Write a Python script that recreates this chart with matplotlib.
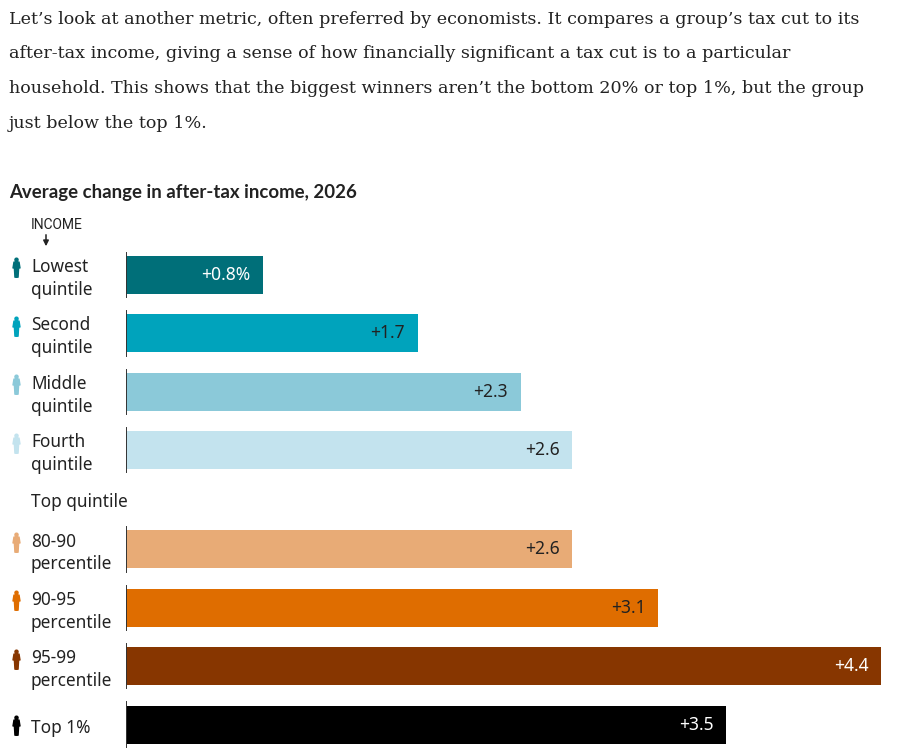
import numpy as np
import matplotlib
matplotlib.use("Agg")
import matplotlib.pyplot as plt
from matplotlib.path import Path
from matplotlib.transforms import blended_transform_factory

# Chart data
groups = ["Lowest\nquintile", "Second\nquintile", "Middle\nquintile", "Fourth\nquintile",
          "80-90\npercentile", "90-95\npercentile", "95-99\npercentile", "Top 1%"]
values = [0.8, 1.7, 2.3, 2.6, 2.6, 3.1, 4.4, 3.5]
value_labels = ["+0.8%", "+1.7", "+2.3", "+2.6", "+2.6", "+3.1", "+4.4", "+3.5"]
bar_colors = ["#006f79", "#00a3bc", "#8bc9d9", "#c3e3ee",
              "#e8ab76", "#df6d00", "#873600", "#000000"]
label_colors = ["white", "#222222", "#222222", "#222222",
                "#222222", "#222222", "white", "white"]

title = "Average change in after-tax income, 2026"
intro = [
    "Let\u2019s look at another metric, often preferred by economists. It compares a group\u2019s tax cut to its",
    "after-tax income, giving a sense of how financially significant a tax cut is to a particular",
    "household. This shows that the biggest winners aren\u2019t the bottom 20% or top 1%, but the group",
    "just below the top 1%.",
]

W, H = 902, 752
SANS = "Noto Sans"
TEXT = "#222222"

# rows, with a gap before the top-quintile breakdown
idx = np.arange(len(values))
rows = idx + np.where(idx >= 4, 0.7, 0.0)

fig = plt.figure(figsize=(W / 100, H / 100), dpi=100)

# intro paragraph
for i, line in enumerate(intro):
    fig.text(9 / W, 1 - (24 + 34.5 * i) / H, line, fontfamily="DejaVu Serif",
             fontsize=12.6, color=TEXT, va="baseline")

fig.text(9 / W, 1 - 198 / H, title, fontfamily="Lato", fontweight="bold",
         fontsize=13.4, color=TEXT, va="baseline")

fig.text(31 / W, 1 - 225 / H, "INCOME", fontfamily="Roboto",
         fontsize=10, color=TEXT, va="center")
fig.add_artist(plt.Annotation("", xy=(46, H - 249), xytext=(46, H - 232),
                              xycoords="figure pixels",
                              arrowprops=dict(arrowstyle="-|>", color=TEXT, lw=1.1,
                                              mutation_scale=8)))

ax = fig.add_axes([126 / W, 2 / H, 772 / W, 500 / H])
ax.barh(rows, values, height=0.65, color=bar_colors)
for r in rows:
    ax.plot([0, 0], [r - 0.38, r + 0.38], color="#333333", lw=1.4)
ax.set_xlim(0, 4.5)
ax.set_ylim(8.134, -0.428)
ax.set_axis_off()

for v, r, lbl, c in zip(values, rows, value_labels, label_colors):
    ax.annotate(lbl, (v, r), xytext=(-9, 0), textcoords="offset points",
                ha="right", va="center", fontfamily=SANS, fontsize=12.6, color=c)

# group labels and little person icons on the left
trans = blended_transform_factory(fig.transFigure, ax.transData)
head = Path.circle((0, 0.8), 0.16)
body = Path([(-0.26, 0.56), (0.26, 0.56), (0.36, -0.05), (0.22, -0.05), (0.16, -1),
             (0.04, -1), (0, -0.3), (-0.04, -1), (-0.16, -1), (-0.22, -0.05),
             (-0.36, -0.05), (-0.26, 0.56)], closed=True)
person = Path.make_compound_path(head, body)

for g, r, c in zip(groups, rows, bar_colors):
    ax.text(31 / W, r + 0.06, g, transform=trans, ha="left", va="center",
            fontfamily=SANS, fontsize=12.4, color=TEXT, linespacing=1.35,
            clip_on=False)
    icon_y = r - 0.13 if "\n" in g else r
    ax.plot([16 / W], [icon_y], marker=person, markersize=14, color=c,
            transform=trans, clip_on=False, linestyle="none")

ax.text(31 / W, 3.89, "Top quintile", transform=trans, ha="left", va="center",
        fontfamily=SANS, fontsize=12.4, color=TEXT, clip_on=False)

fig.savefig("out.png", dpi=100)
